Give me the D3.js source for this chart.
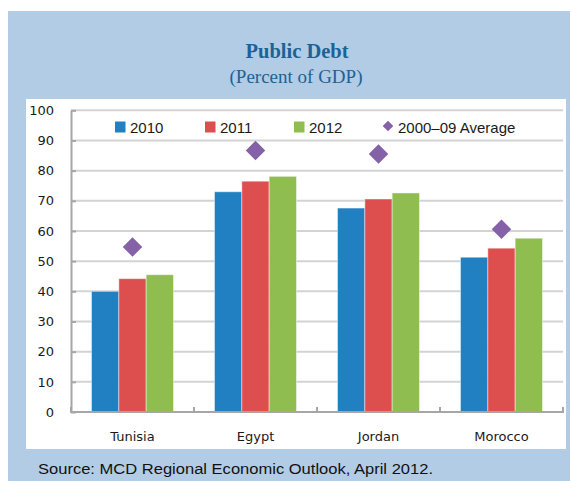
<!DOCTYPE html>
<html>
<head>
<meta charset="utf-8">
<script src="https://cdn.jsdelivr.net/npm/d3@7"></script>
<style>
  html, body { margin: 0; padding: 0; background: #ffffff; }
  svg { display: block; }
</style>
</head>
<body>
<svg id="chart" width="570" height="481"></svg>
<script>
// Public debt by country, percent of GDP
const categories = ["Tunisia", "Egypt", "Jordan", "Morocco"];
const seriesNames = ["2010", "2011", "2012"];
const values2010 = [40.0, 73.0, 67.6, 51.3];
const values2011 = [44.2, 76.5, 70.6, 54.3];
const values2012 = [45.5, 78.1, 72.6, 57.6];
const average0009 = [54.7, 86.7, 85.5, 60.6];
const averageName = "2000\u201309 Average";
const yTicks = [0, 10, 20, 30, 40, 50, 60, 70, 80, 90, 100];

const seriesValues = [values2010, values2011, values2012];
const seriesColors = ["#2180C2", "#DD4F4E", "#8FBD4F"];
const diamondColor = "#8561A8";
const axisFont = "DejaVu Sans, Verdana, sans-serif";

const svg = d3.select("#chart");

// Panel and plot area backgrounds
svg.append("rect").attr("x", 8).attr("y", 11).attr("width", 562).attr("height", 470)
  .attr("fill", "#B1CCE4");
svg.append("rect").attr("x", 26).attr("y", 99).attr("width", 540).attr("height", 350)
  .attr("fill", "#ffffff");

// Titles
svg.append("text").attr("x", 297).attr("y", 58).attr("text-anchor", "middle")
  .attr("font-family", "Liberation Serif, serif").attr("font-weight", "bold")
  .attr("font-size", 20.5).attr("fill", "#1D6296").text("Public Debt");
svg.append("text").attr("x", 296).attr("y", 83).attr("text-anchor", "middle")
  .attr("font-family", "Liberation Serif, serif")
  .attr("font-size", 19).attr("fill", "#1D6296").text("(Percent of GDP)");

// Scales
const x0 = d3.scaleBand().domain(categories).range([71, 563])
  .paddingInner(1 / 3).paddingOuter(1 / 6);
const x1 = d3.scaleBand().domain(seriesNames).range([0, x0.bandwidth()]);
const y = d3.scaleLinear().domain([0, 100]).range([412, 110.3]);

// Gridlines
svg.append("g").selectAll("line").data(yTicks.filter(d => d > 0)).join("line")
  .attr("x1", 71).attr("x2", 563)
  .attr("y1", d => y(d)).attr("y2", d => y(d))
  .attr("stroke", "#D3D3D3").attr("stroke-width", 2);

// Y axis: inward ticks, labels on the left
const yAxis = d3.axisLeft(y).tickValues(yTicks).tickSizeInner(-5).tickSizeOuter(0)
  .tickPadding(17).tickFormat(d3.format("d"));
const gy = svg.append("g").attr("transform", "translate(71,0)").call(yAxis);
gy.select(".domain").attr("stroke", "#A6A6A6").attr("stroke-width", 2);
gy.selectAll(".tick line").attr("stroke", "#A6A6A6").attr("stroke-width", 2);
gy.selectAll(".tick text").attr("font-family", axisFont)
  .attr("font-size", 13).attr("fill", "#1a1a1a");

// Bars
const groups = svg.append("g").selectAll("g").data(categories).join("g")
  .attr("transform", d => `translate(${x0(d)},0)`);
groups.selectAll("rect")
  .data((c, i) => seriesNames.map((s, k) => ({ s, k, v: seriesValues[k][i] })))
  .join("rect")
  .attr("x", d => x1(d.s)).attr("width", x1.bandwidth())
  .attr("y", d => y(d.v)).attr("height", d => y(0) - y(d.v))
  .attr("fill", d => seriesColors[d.k])
  .attr("stroke", "#ffffff").attr("stroke-opacity", 0.45).attr("stroke-width", 1);

// X axis: baseline with inward ticks between categories
const gx = svg.append("g");
gx.append("line").attr("x1", 70).attr("x2", 564).attr("y1", y(0)).attr("y2", y(0))
  .attr("stroke", "#A6A6A6").attr("stroke-width", 2);
const boundaries = categories.map((c, i) => x0(c) - (x0.step() - x0.bandwidth()) / 2)
  .concat([563]);
gx.selectAll("line.tick").data(boundaries).join("line").attr("class", "tick")
  .attr("x1", d => d).attr("x2", d => d)
  .attr("y1", y(0)).attr("y2", y(0) - 5)
  .attr("stroke", "#A6A6A6").attr("stroke-width", 2);
gx.selectAll("text").data(categories).join("text")
  .attr("x", d => x0(d) + x0.bandwidth() / 2).attr("y", 441)
  .attr("text-anchor", "middle")
  .attr("font-family", axisFont).attr("font-size", 13)
  .attr("fill", "#1a1a1a").text(d => d);

// 2000-09 average markers
const diamond = d3.symbol().type(d3.symbolDiamond2).size(242);
svg.append("g").selectAll("path").data(average0009).join("path")
  .attr("transform", (d, i) => `translate(${x0(categories[i]) + x0.bandwidth() / 2},${y(d)})`)
  .attr("d", diamond).attr("fill", diamondColor);

// Legend
const legendY = 127;
const legendItems = [
  { name: seriesNames[0], color: seriesColors[0], x: 115 },
  { name: seriesNames[1], color: seriesColors[1], x: 205 },
  { name: seriesNames[2], color: seriesColors[2], x: 294 }
];
const lg = svg.append("g");
lg.selectAll("rect").data(legendItems).join("rect")
  .attr("x", d => d.x).attr("y", legendY - 5.5).attr("width", 10.5).attr("height", 11)
  .attr("fill", d => d.color);
lg.selectAll("text.s").data(legendItems).join("text").attr("class", "s")
  .attr("x", d => d.x + 15).attr("y", legendY + 5.5)
  .attr("font-family", "Liberation Sans, Arial, sans-serif").attr("font-size", 15)
  .attr("fill", "#1a1a1a").text(d => d.name);
lg.append("path").attr("transform", `translate(388,${legendY - 1})`)
  .attr("d", d3.symbol().type(d3.symbolDiamond2).size(72)).attr("fill", diamondColor);
lg.append("text").attr("x", 398).attr("y", legendY + 5.5)
  .attr("font-family", "Liberation Sans, Arial, sans-serif").attr("font-size", 15)
  .attr("fill", "#1a1a1a").text(averageName);

// Source note
svg.append("text").attr("x", 38).attr("y", 474)
  .attr("font-family", "Liberation Sans, Arial, sans-serif").attr("font-size", 15.5)
  .attr("textLength", 395).attr("lengthAdjust", "spacingAndGlyphs")
  .attr("fill", "#111111").text("Source: MCD Regional Economic Outlook, April 2012.");
</script>
</body>
</html>
